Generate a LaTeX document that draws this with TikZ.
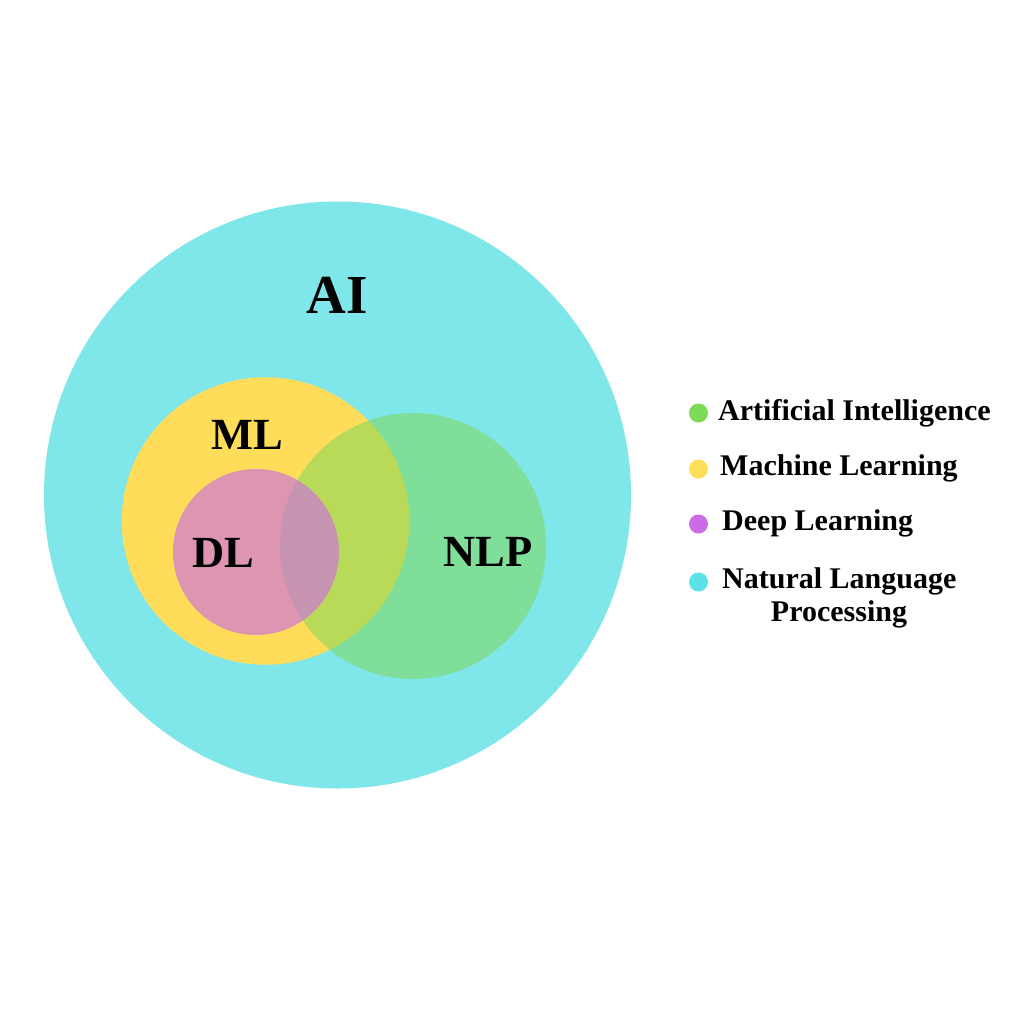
\documentclass[tikz,border=0pt]{standalone}
\usepackage{fontspec}
\setmainfont{Liberation Serif}
\definecolor{aicyan}{HTML}{7FE6EA}
\definecolor{mlyellow}{HTML}{FFDC5A}
\definecolor{nlpgreen}{HTML}{7ED957}
\definecolor{dlpurple}{HTML}{CB6CE6}
\definecolor{dotyellow}{HTML}{FFDE59}
\definecolor{dotcyan}{HTML}{5CE1E6}
\tikzset{
  bigset/.style={circle, inner sep=0pt, draw=none},
  biglabel/.style={anchor=base, inner sep=0pt, font=\fontsize{44.5}{50}\selectfont\bfseries, text=black},
  legdot/.style={circle, inner sep=0pt, minimum size=19pt, draw=none},
  legtext/.style={anchor=base west, inner sep=0pt, font=\fontsize{30}{34}\selectfont\bfseries, text=black}
}
\begin{document}
\begin{tikzpicture}[x=1pt,y=-1pt]
\useasboundingbox (0,0) rectangle (1024,1024);
\fill[white] (0,0) rectangle (1024,1024);
% sets
\node[bigset, fill=aicyan, minimum size=587pt] (ai) at (337.5,495) {};
\node[bigset, fill=mlyellow, minimum size=287.5pt] (ml) at (265.5,521) {};
\node[bigset, fill=nlpgreen, fill opacity=0.54, minimum size=266pt] (nlp) at (413,546) {};
\node[bigset, fill=dlpurple, fill opacity=0.63, minimum size=166pt] (dl) at (256,552) {};
% labels
\node[biglabel, font=\fontsize{55}{60}\selectfont\bfseries] (ailab) at (337.5,313) {AI};
\node[biglabel] (mllab) at (247,449) {ML};
\node[biglabel] (dllab) at (223,567) {DL};
\node[biglabel] (nlplab) at (488,566) {NLP};
% legend
\node[legdot, fill=nlpgreen] (d1) at (698.5,413) {};
\node[legdot, fill=dotyellow] (d2) at (698.5,469) {};
\node[legdot, fill=dlpurple] (d3) at (698.5,524) {};
\node[legdot, fill=dotcyan] (d4) at (698.5,582) {};
\node[legtext] (t1) at (718,420) {Artificial Intelligence};
\node[legtext] (t2) at (720,475) {Machine Learning};
\node[legtext] (t3) at (722,530) {Deep Learning};
\node[legtext] (t4) at (722,588) {Natural Language};
\node[legtext, anchor=base] (t4b) at (839,621) {Processing};
\end{tikzpicture}
\end{document}
